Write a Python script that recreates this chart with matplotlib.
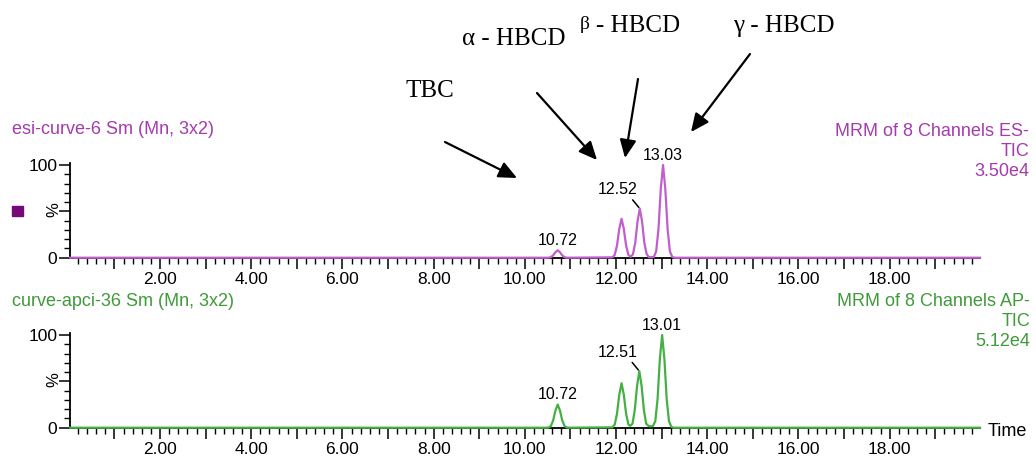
import matplotlib
matplotlib.use('Agg')
import matplotlib.pyplot as plt
from matplotlib.ticker import MultipleLocator, FixedLocator, FuncFormatter
from matplotlib.patches import FancyArrowPatch, Rectangle

plt.rcParams['font.family'] = ['Liberation Sans', 'DejaVu Sans']

# ---------------- data ----------------
esi_time = [0.03, 10.52, 10.57, 10.62, 10.67, 10.72, 10.77, 10.82, 10.87, 10.92,
            11.92, 11.97, 12.02, 12.07, 12.12, 12.17, 12.22, 12.27, 12.32, 12.37,
            12.42, 12.47, 12.52, 12.57, 12.62, 12.67, 12.72, 12.78, 12.83, 12.88,
            12.93, 12.98, 13.03, 13.08, 13.13, 13.18, 13.23, 13.28, 19.98]
esi_pct = [0, 0, 0.6, 2.5, 5.9, 8, 5.9, 2.5, 0.6, 0,
           0.4, 3, 13, 31, 42, 31, 13, 3, 1, 3.7,
           16, 39, 53, 39, 16, 4, 0.6, 0.6, 1, 7,
           31, 74, 100, 74, 31, 7, 1, 0, 0]

apci_time = [0.03, 10.47, 10.52, 10.57, 10.62, 10.67, 10.72, 10.77, 10.82, 10.87, 10.92, 10.97,
             11.92, 11.97, 12.02, 12.07, 12.12, 12.17, 12.22, 12.27, 12.31, 12.36,
             12.41, 12.46, 12.51, 12.56, 12.61, 12.66, 12.71, 12.76, 12.81, 12.86,
             12.91, 12.96, 13.01, 13.06, 13.11, 13.16, 13.21, 13.26, 19.98]
apci_pct = [0, 0, 0.2, 1.8, 7.8, 18.5, 25, 18.5, 7.8, 1.8, 0.2, 0,
            0.4, 3.4, 15, 35.5, 48, 35.5, 15, 3.5, 2, 4.3,
            19, 45, 61, 45, 19, 4.3, 2, 1.5, 2, 7,
            31, 74, 100, 74, 31, 7, 1, 0, 0]

esi_peak_labels = ["10.72", "12.52", "13.03"]
esi_peak_t = [10.72, 12.52, 13.03]
esi_peak_h = [8, 53, 100]
apci_peak_labels = ["10.72", "12.51", "13.01"]
apci_peak_t = [10.72, 12.51, 13.01]
apci_peak_h = [25, 61, 100]

esi_title = "esi-curve-6 Sm (Mn, 3x2)"
apci_title = "curve-apci-36 Sm (Mn, 3x2)"
esi_info = ["MRM of 8 Channels ES-", "TIC", "3.50e4"]
apci_info = ["MRM of 8 Channels AP-", "TIC", "5.12e4"]

compound_names = ["TBC", "α - HBCD", "β", "- HBCD", "γ - HBCD"]

# ---------------- figure ----------------
W, H = 1036, 457
fig = plt.figure(figsize=(W / 100, H / 100), dpi=100)

def px_axes(left, right, top, bottom):
    return fig.add_axes([left / W, 1 - bottom / H, (right - left) / W, (bottom - top) / H])

def ftxt(x, y, s, **kw):
    return fig.text(x / W, 1 - y / H, s, **kw)

ESI_LINE = '#c05ecd'
ESI_TEXT = '#a63aae'
APCI_LINE = '#44b044'
APCI_TEXT = '#3f9a3a'

def xfmt(v, pos):
    iv = int(round(v))
    if abs(v - iv) < 1e-6 and iv % 2 == 0 and iv > 0:
        return f"{v:.2f}"
    return ""

def yfmt(v, pos):
    if abs(v) < 1e-6:
        return "0"
    if abs(v - 100) < 1e-6:
        return "100"
    return ""

def style(ax):
    ax.set_xlim(0.026, 19.98)
    ax.set_ylim(0, 102.5)
    for s in ['top', 'right']:
        ax.spines[s].set_visible(False)
    for s in ['left', 'bottom']:
        ax.spines[s].set_linewidth(1.3)
        ax.spines[s].set_color('black')
    ax.xaxis.set_major_locator(MultipleLocator(1))
    ax.xaxis.set_minor_locator(MultipleLocator(0.2))
    ax.xaxis.set_major_formatter(FuncFormatter(xfmt))
    ax.yaxis.set_major_locator(FixedLocator([0, 50, 100]))
    ax.yaxis.set_minor_locator(MultipleLocator(10))
    ax.yaxis.set_major_formatter(FuncFormatter(yfmt))
    ax.tick_params(axis='x', which='major', length=8, width=1.1, direction='out',
                   labelsize=12.5, pad=2)
    ax.tick_params(axis='x', which='minor', length=4, width=1.0, direction='out')
    ax.tick_params(axis='y', which='major', length=8, width=1.1, direction='out',
                   labelsize=12.5, pad=1)
    ax.tick_params(axis='y', which='minor', length=4, width=1.0, direction='out')

ax1 = px_axes(70, 980, 162.7, 257.7)
ax2 = px_axes(70, 980, 332.7, 427.7)

for ax, t, y, col, labs, pt, ph in [
        (ax1, esi_time, esi_pct, ESI_LINE, esi_peak_labels, esi_peak_t, esi_peak_h),
        (ax2, apci_time, apci_pct, APCI_LINE, apci_peak_labels, apci_peak_t, apci_peak_h)]:
    style(ax)
    ax.plot(t, y, color=col, lw=1.6, clip_on=False, zorder=5)
    for i, (lab, tt, hh) in enumerate(zip(labs, pt, ph)):
        if i == 1:
            ax.annotate(lab, xy=(tt, hh), xytext=(-22, 19), textcoords='offset pixels',
                        ha='center', va='center', fontsize=11.5,
                        arrowprops=dict(arrowstyle='-', lw=1.1, color='black',
                                        shrinkA=0, shrinkB=1, relpos=(0.8, 0.05)),
                        annotation_clip=False)
        else:
            ax.annotate(lab, xy=(tt, hh), xytext=(0, 10), textcoords='offset pixels',
                        ha='center', va='center', fontsize=11.5, annotation_clip=False)

# panel titles and info
ftxt(12, 130, esi_title, color=ESI_TEXT, fontsize=13, va='center', ha='left')
ftxt(12, 302, apci_title, color=APCI_TEXT, fontsize=13, va='center', ha='left')
for yy, s in zip([131, 151, 171], esi_info):
    ftxt(1029, yy, s, color=ESI_TEXT, fontsize=13, va='center', ha='right')
for yy, s in zip([302, 322, 342], apci_info):
    ftxt(1030, yy, s, color=APCI_TEXT, fontsize=13, va='center', ha='right')

ftxt(53.5, 210, "%", fontsize=12, rotation=90, va='center', ha='center')
ftxt(53.5, 380, "%", fontsize=12, rotation=90, va='center', ha='center')
ftxt(988, 431, "Time", fontsize=13, va='center', ha='left')

# purple square marker
fig.add_artist(Rectangle((12 / 100, (H - 216) / 100), 0.105, 0.10,
                         transform=fig.dpi_scale_trans, color='#740a78'))

# compound annotations (serif)
SERIF = ['Liberation Serif', 'DejaVu Serif']
ftxt(405, 97, compound_names[0], family=SERIF, fontsize=18, va='baseline', ha='left')
ftxt(462, 45, compound_names[1], family=SERIF, fontsize=18, va='baseline', ha='left')
ftxt(580, 29, compound_names[2], family=SERIF, fontsize=14, va='baseline', ha='left')
ftxt(596, 32, compound_names[3], family=SERIF, fontsize=18, va='baseline', ha='left')
ftxt(733, 32, compound_names[4], family=SERIF, fontsize=18, va='baseline', ha='left')

arrows = [((445, 142), (517, 178)),
          ((537, 93), (597, 160)),
          ((638, 79), (625, 158)),
          ((750, 54), (691, 132))]
for (x0, y0), (x1, y1) in arrows:
    fig.add_artist(FancyArrowPatch((x0 / 100, (H - y0) / 100), (x1 / 100, (H - y1) / 100),
                                   transform=fig.dpi_scale_trans,
                                   arrowstyle='-|>,head_length=0.55,head_width=0.25',
                                   mutation_scale=20, lw=1.6, color='black',
                                   shrinkA=0, shrinkB=0))

fig.savefig('out.png', dpi=100)
